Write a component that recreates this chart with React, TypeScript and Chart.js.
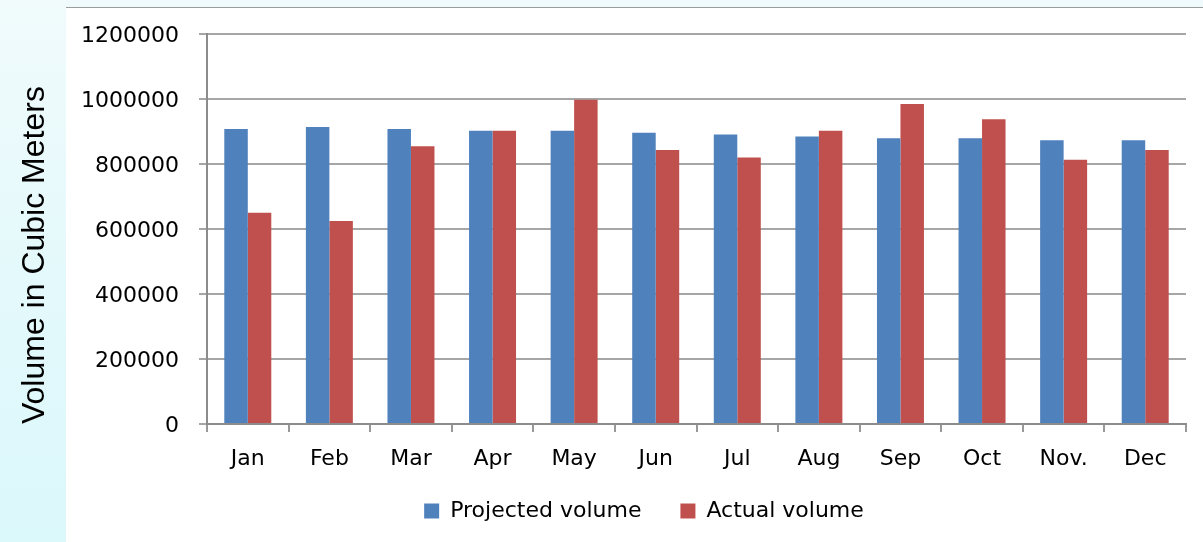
import React, { useEffect, useRef } from "react";
import { Chart, registerables } from "chart.js";

Chart.register(...registerables);

const months = ["Jan", "Feb", "Mar", "Apr", "May", "Jun", "Jul", "Aug", "Sep", "Oct", "Nov.", "Dec"];
const projectedVolume = [908000, 914000, 908000, 902000, 902000, 896000, 891000, 885000, 879000, 879000, 873000, 873000];
const actualVolume = [650000, 625000, 855000, 902000, 998000, 843000, 820000, 902000, 985000, 938000, 813000, 843000];
const yTickValues = [0, 200000, 400000, 600000, 800000, 1000000, 1200000];

const legendPlace = {
  id: "legendPlace",
  afterLayout(chart: any) {
    const l = chart.legend;
    if (l) {
      l.left += 51;
      l.right += 51;
      l.top = 461;
      l.bottom = chart.height;
      l.height = l.bottom - l.top;
    }
  },
};

export default function App() {
  const ref = useRef<HTMLCanvasElement | null>(null);

  useEffect(() => {
    if (!ref.current) return;
    const chart = new Chart(ref.current, {
      type: "bar",
      data: {
        labels: months,
        datasets: [
          {
            label: "Projected volume",
            data: projectedVolume,
            backgroundColor: "#4f81bd",
            borderWidth: 0,
            categoryPercentage: 0.576,
            barPercentage: 1.0,
          },
          {
            label: "Actual volume",
            data: actualVolume,
            backgroundColor: "#c0504d",
            borderWidth: 0,
            categoryPercentage: 0.576,
            barPercentage: 1.0,
          },
        ],
      },
      options: {
        responsive: false,
        animation: false,
        layout: { padding: { top: 34, right: 17, bottom: 15.6, left: 0 } },
        plugins: {
          tooltip: { enabled: false },
          legend: {
            position: "bottom",
            maxHeight: 40,
            labels: {
              boxWidth: 15,
              boxHeight: 15,
              padding: 39,
              color: "#000",
              font: { family: "DejaVu Sans", size: 22 },
            },
          },
        },
        scales: {
          x: {
            grid: {
              drawOnChartArea: false,
              drawTicks: true,
              tickLength: 8,
              color: "#999999",
              lineWidth: 2,
            },
            border: { color: "#8c8c8c", width: 2 },
            ticks: {
              color: "#000",
              padding: 14,
              font: { family: "DejaVu Sans", size: 22 },
              maxRotation: 0,
              autoSkip: false,
            },
          },
          y: {
            min: 0,
            max: 1200000,
            grid: {
              color: "#a6a6a6",
              lineWidth: 2,
              tickLength: 8,
            },
            border: { color: "#8c8c8c", width: 2 },
            ticks: {
              color: "#000",
              padding: 20,
              labelOffset: 2,
              font: { family: "DejaVu Sans", size: 22 },
              callback: (v: any) => String(v),
            },
            afterBuildTicks(scale: any) {
              scale.ticks = yTickValues.map((v) => ({ value: v }));
            },
            title: {
              display: true,
              text: "Volume in Cubic Meters",
              align: "start",
              color: "#000",
              padding: { top: 16, bottom: 0 },
              font: { family: "Liberation Sans", size: 32 },
            },
            afterFit(scale: any) {
              scale.width = 207;
            },
          },
        },
      },
      plugins: [legendPlace],
    } as any);
    return () => chart.destroy();
  }, []);

  return (
    <div
      style={{
        position: "fixed",
        left: 0,
        top: 0,
        width: 1203,
        height: 542,
        background: "#ffffff",
        overflow: "hidden",
      }}
    >
      <div
        style={{
          position: "absolute",
          left: 0,
          top: 0,
          width: 66,
          height: 542,
          background: "linear-gradient(to bottom, #f1fbfc 0%, #e4f9fb 50%, #dbf8fb 100%)",
        }}
      />
      <div
        style={{
          position: "absolute",
          left: 66,
          top: 0,
          width: 1137,
          height: 7,
          background: "#eefafc",
          borderBottom: "1px solid #9c9c9c",
        }}
      />
      <canvas
        ref={ref}
        width={1203}
        height={542}
        style={{ position: "absolute", left: 0, top: 0, width: 1203, height: 542 }}
      />
    </div>
  );
}
